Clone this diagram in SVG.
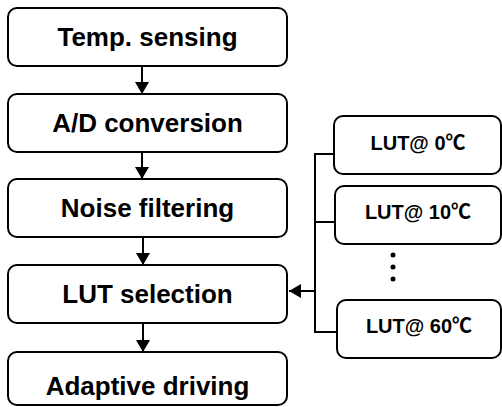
<svg xmlns="http://www.w3.org/2000/svg" width="502" height="407" viewBox="0 0 502 407">
<defs>
<style>
.box{fill:#fff;stroke:#000;stroke-width:2}
.t{font-family:"Liberation Sans","Noto Sans CJK SC",Arial,sans-serif;font-weight:bold;fill:#000;text-anchor:middle}
.big{font-size:26px}
.sm{font-size:20px}
.cjk{font-family:"Noto Sans CJK SC",sans-serif;font-weight:bold}
.ln{stroke:#000;stroke-width:2;fill:none}
</style>
<marker id="ah" viewBox="0 0 12 14" refX="12" refY="7" markerWidth="12" markerHeight="14" markerUnits="userSpaceOnUse" orient="auto">
<path d="M0,0 L12,7 L0,14 Z" fill="#000"/>
</marker>
</defs>
<g id="n1"><rect class="box" x="8" y="8" width="279" height="58" rx="9"/><text class="t big" x="147.5" y="46">Temp. sensing</text></g>
<g id="n2"><rect class="box" x="8" y="94" width="279" height="58" rx="9"/><text class="t big" x="147.5" y="132">A/D conversion</text></g>
<g id="n3"><rect class="box" x="8" y="179" width="279" height="58" rx="9"/><text class="t big" x="147.5" y="217">Noise filtering</text></g>
<g id="n4"><rect class="box" x="8" y="265" width="279" height="58" rx="9"/><text class="t big" x="147.5" y="303">LUT selection</text></g>
<g id="n5"><rect class="box" x="8" y="352" width="279" height="53" rx="9"/><text class="t big" x="147.5" y="395">Adaptive driving</text></g>
<g id="l0"><rect class="box" x="334" y="116" width="167" height="58" rx="9"/><text class="t sm" x="418" y="150">LUT@ 0<tspan class="cjk">℃</tspan></text></g>
<g id="l10"><rect class="box" x="335" y="186" width="166" height="58" rx="9"/><text class="t sm" x="418" y="219">LUT@ 10<tspan class="cjk">℃</tspan></text></g>
<g id="l60"><rect class="box" x="337" y="300" width="164" height="58" rx="9"/><text class="t sm" x="419" y="333">LUT@ 60<tspan class="cjk">℃</tspan></text></g>
<g id="dots" fill="#000"><circle cx="393" cy="255" r="2.5"/><circle cx="393" cy="267" r="2.5"/><circle cx="393" cy="279" r="2.5"/></g>
<g id="connectors">
<line class="ln" x1="142" y1="66" x2="142" y2="94" marker-end="url(#ah)"/>
<line class="ln" x1="142" y1="152" x2="142" y2="179" marker-end="url(#ah)"/>
<line class="ln" x1="143" y1="237" x2="143" y2="265" marker-end="url(#ah)"/>
<line class="ln" x1="143" y1="323" x2="143" y2="352" marker-end="url(#ah)"/>
<path class="ln" d="M334,154 H315 V332 H337 M315,222 H335"/>
<line class="ln" x1="315" y1="291" x2="289" y2="291" marker-end="url(#ah)"/>
</g>
</svg>
